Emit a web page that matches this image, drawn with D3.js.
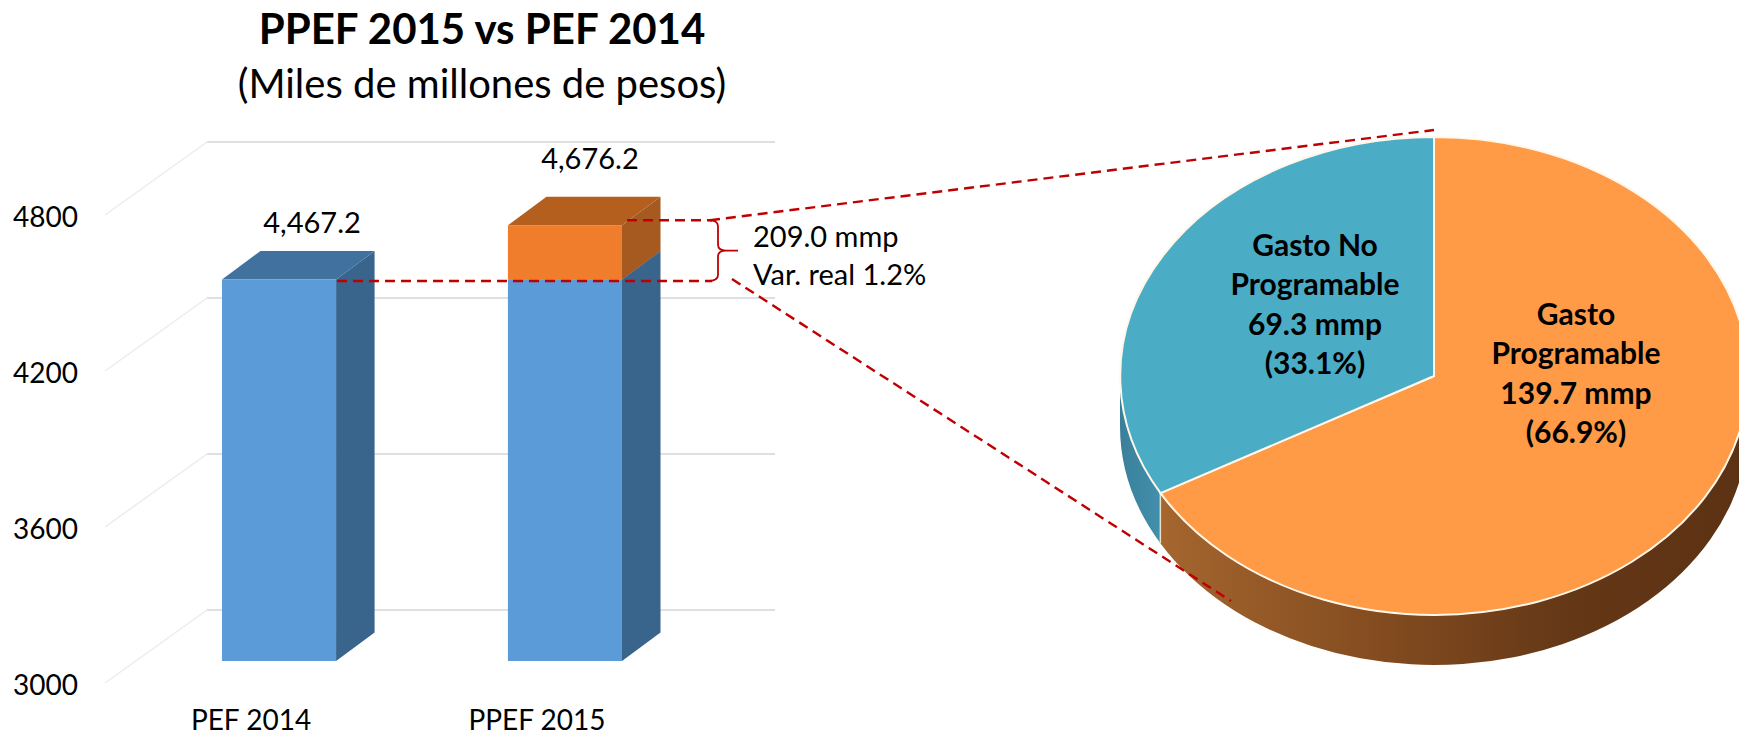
<!DOCTYPE html>
<html>
<head>
<meta charset="utf-8">
<script src="https://cdnjs.cloudflare.com/ajax/libs/d3/7.8.5/d3.min.js"></script>
<style>
  html, body { margin: 0; padding: 0; background: #fff; overflow: hidden; }
  text { font-family: Lato, "Open Sans", sans-serif; fill: #000; }
</style>
</head>
<body>
<div id="chart"></div>
<script>
// bar chart data
var categories = ["PEF 2014", "PPEF 2015"];
var baseValues = [4467.2, 4467.2];
var extraValues = [0, 209.0];
var totalLabels = ["4,467.2", "4,676.2"];
var yTicks = [3000, 3600, 4200, 4800];

// pie data
var pieNames = ["Gasto Programable", "Gasto No Programable"];
var pieValues = [139.7, 69.3];
var pieColors = ["#ff9a47", "#4bacc6"];
var pieLabelLines = [
  ["Gasto", "Programable", "139.7 mmp", "(66.9%)"],
  ["Gasto No", "Programable", "69.3 mmp", "(33.1%)"]
];

var svgWidth = 1739;
var svgHeight = 736;

var svg = d3.select("#chart")
  .append("svg")
  .attr("width", svgWidth)
  .attr("height", svgHeight);

var defs = svg.append("defs");

function hGradient(id, stops) {
  var g = defs.append("linearGradient").attr("id", id)
    .attr("x1", "0%").attr("x2", "100%").attr("y1", "0%").attr("y2", "0%");
  stops.forEach(function(s) {
    g.append("stop").attr("offset", s[0]).attr("stop-color", s[1]);
  });
}
hGradient("wallOrange", [["0%", "#a5662f"], ["35%", "#854d20"], ["70%", "#643716"], ["100%", "#5c3214"]]);
hGradient("wallBlue", [["0%", "#3a7f9a"], ["100%", "#4290ad"]]);

// titles
svg.append("text").attr("x", 482).attr("y", 44).attr("text-anchor", "middle")
  .style("font-size", "42px").style("font-weight", 700).text("PPEF 2015 vs PEF 2014");
svg.append("text").attr("x", 482).attr("y", 98).attr("text-anchor", "middle")
  .style("font-size", "40px").text("(Miles de millones de pesos)");

// scales, y runs on the plane of the front of the bars
var y = d3.scaleLinear().domain([3000, 4800]).range([661, 193]);
var x = d3.scaleBand().domain(categories).range([222, 622]).paddingInner(0.601).paddingOuter(0);

var depthX = 38.5, depthY = -28.5;   // bar depth
var wallDy = -51, floorDy = 22;      // back wall and front edge of the floor, from the bar plane

// gridlines on the back wall + the diagonal floor lines
var grid = svg.append("g").attr("fill", "none").attr("stroke", "#e0e0e0").attr("stroke-width", 2);
yTicks.forEach(function(t) {
  var yBack = y(t) + wallDy;
  grid.append("line").attr("x1", 207).attr("x2", 775).attr("y1", yBack).attr("y2", yBack);
  grid.append("line").attr("x1", 207).attr("x2", 105).attr("y1", yBack).attr("y2", y(t) + floorDy)
    .attr("stroke-width", 1.5).attr("stroke", "#ececec");
});

// y axis
var yAxis = svg.append("g")
  .attr("transform", "translate(78," + (floorDy + 3) + ")")
  .call(d3.axisLeft(y).tickValues(yTicks).tickSize(0).tickPadding(0).tickFormat(d3.format("d")));
yAxis.select(".domain").remove();
yAxis.selectAll("text").style("font-size", "28px").style("font-family", "Lato").attr("dy", "0.32em");

// x axis
var xAxis = svg.append("g")
  .attr("transform", "translate(-28,710)")
  .call(d3.axisBottom(x).tickSize(0).tickPadding(0));
xAxis.select(".domain").remove();
xAxis.selectAll("text").style("font-size", "28px").style("font-family", "Lato").attr("dy", "0.71em");

// a 3d box between two values
function box(g, left, w, v0, v1, front, side, top) {
  var yb = y(v0), yt = y(v1), r = left + w;
  var pts = function(a) { return a.map(function(p) { return p.join(","); }).join(" "); };
  g.append("polygon").attr("fill", side)
    .attr("points", pts([[r, yb], [r + depthX, yb + depthY], [r + depthX, yt + depthY], [r, yt]]));
  g.append("polygon").attr("fill", top)
    .attr("points", pts([[left, yt], [left + depthX, yt + depthY], [r + depthX, yt + depthY], [r, yt]]));
  g.append("rect").attr("x", left).attr("y", yt).attr("width", w).attr("height", yb - yt).attr("fill", front);
}

var bars = svg.append("g");
categories.forEach(function(c, i) {
  var left = x(c), w = x.bandwidth();
  box(bars, left, w, 3000, baseValues[i], "#5b9bd8", "#39658c", "#41719f");
  if (extraValues[i] > 0) {
    box(bars, left, w, baseValues[i], baseValues[i] + extraValues[i], "#f07d2c", "#a65a20", "#b55f1f");
  }
});

// total labels over the bars
var labelDx = [33, 25], labelDy = [-47, -56];
categories.forEach(function(c, i) {
  svg.append("text")
    .attr("x", x(c) + x.bandwidth() / 2 + labelDx[i])
    .attr("y", y(baseValues[i] + extraValues[i]) + labelDy[i])
    .attr("text-anchor", "middle")
    .style("font-size", "29px")
    .text(totalLabels[i]);
});

// pie
var cx = 1434, cy = 376, rx = 314, ry = 239, pieDepth = 50;
var pieData = d3.pie().sort(null)(pieValues);
var arcUnit = d3.arc().innerRadius(0).outerRadius(1);

// side wall of the pie for a slice, angles clockwise from the top
function wallPath(a0, a1) {
  var p = function(a) { return [cx + rx * Math.sin(a), cy - ry * Math.cos(a)]; };
  var s = p(a0), e = p(a1);
  return "M" + s[0] + "," + s[1] +
    "A" + rx + "," + ry + " 0 0 1 " + e[0] + "," + e[1] +
    "L" + e[0] + "," + (e[1] + pieDepth) +
    "A" + rx + "," + ry + " 0 0 0 " + s[0] + "," + (s[1] + pieDepth) + "Z";
}
var boundary = pieData[0].endAngle;
var walls = svg.append("g");
walls.append("path").attr("d", wallPath(Math.PI / 2, boundary)).attr("fill", "url(#wallOrange)");
walls.append("path").attr("d", wallPath(boundary, Math.PI * 1.5)).attr("fill", "url(#wallBlue)");
var bx = cx + rx * Math.sin(boundary), by = cy - ry * Math.cos(boundary);
walls.append("line").attr("x1", bx).attr("x2", bx).attr("y1", by).attr("y2", by + pieDepth)
  .attr("stroke", "#e8e0c8").attr("stroke-width", 1.5);

svg.append("g")
  .attr("transform", "translate(" + cx + "," + cy + ") scale(" + rx + "," + ry + ")")
  .selectAll("path")
  .data(pieData)
  .enter()
  .append("path")
  .attr("d", arcUnit)
  .attr("fill", function(d, i) { return pieColors[i]; })
  .attr("stroke", "#fff8ea")
  .attr("stroke-width", 2)
  .attr("vector-effect", "non-scaling-stroke");

// pie labels
var pieLabelX = [1576, 1315], pieLabelY = [325, 256];
pieLabelLines.forEach(function(lines, i) {
  lines.forEach(function(t, j) {
    svg.append("text")
      .attr("x", pieLabelX[i])
      .attr("y", pieLabelY[i] + j * 39.4)
      .attr("text-anchor", "middle")
      .style("font-size", "30px")
      .style("font-weight", 700)
      .text(t);
  });
});

// red dashed connectors and the bracket
var yHigh = y(baseValues[1] + extraValues[1]) - 5;
var yLow = y(baseValues[1]) + 1.5;
var ann = svg.append("g").attr("fill", "none").attr("stroke", "#c00000").attr("stroke-width", 2.4);
var dash = "10,6";
ann.append("line").attr("x1", 337).attr("x2", 712).attr("y1", yLow).attr("y2", yLow).attr("stroke-dasharray", dash);
ann.append("line").attr("x1", 627).attr("x2", 712).attr("y1", yHigh).attr("y2", yHigh).attr("stroke-dasharray", dash);
ann.append("line").attr("x1", 710).attr("y1", yHigh).attr("x2", cx).attr("y2", 130).attr("stroke-dasharray", dash);
ann.append("line").attr("x1", 732).attr("y1", 279).attr("x2", 1231).attr("y2", 601).attr("stroke-dasharray", dash);

var yMid = (yHigh + yLow) / 2;
ann.append("path").attr("stroke-width", 1.8)
  .attr("d", "M708," + yHigh + "Q718," + yHigh + " 718," + (yHigh + 6) +
    "L718," + (yMid - 6) + "Q718," + yMid + " 726," + yMid + "L738," + yMid +
    "M726," + yMid + "Q718," + yMid + " 718," + (yMid + 6) +
    "L718," + (yLow - 6) + "Q718," + yLow + " 708," + yLow);

svg.append("text").attr("x", 753).attr("y", 247).style("font-size", "29px").text("209.0 mmp");
svg.append("text").attr("x", 753).attr("y", 285).style("font-size", "29px").text("Var. real 1.2%");
</script>
</body>
</html>
